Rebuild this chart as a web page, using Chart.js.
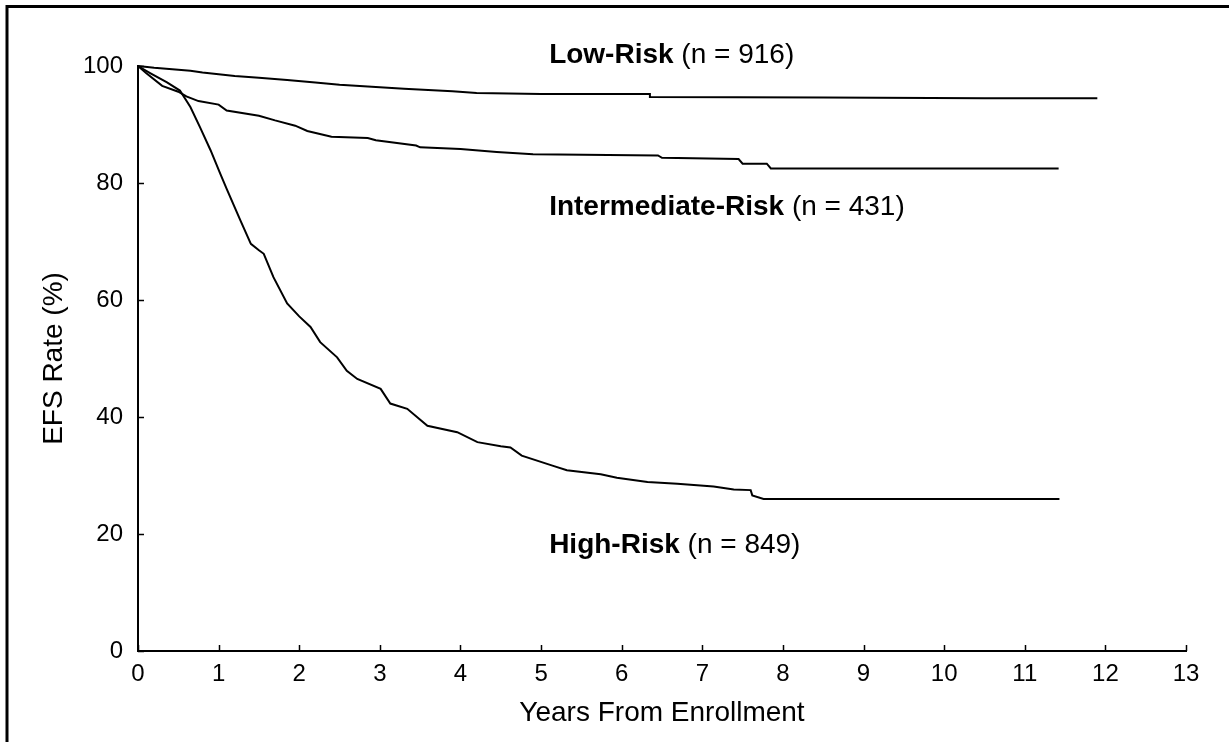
<!DOCTYPE html>
<html><head><meta charset="utf-8">
<script src="https://cdn.jsdelivr.net/npm/chart.js@4.4.1/dist/chart.umd.min.js"></script>
<style>html,body{margin:0;padding:0;background:#fff;}canvas{display:block;}</style>
</head><body>
<canvas id="c" width="1229" height="742"></canvas>
<script>
// ---- data (years from enrollment, EFS rate %) ----
const xTickValues = [0,1,2,3,4,5,6,7,8,9,10,11,12,13];
const yTickValues = [0,20,40,60,80,100];

const lowRiskX = [0,0.2,0.65,0.8,1.2,1.5,1.85,2.2,2.5,2.85,3.3,3.9,4.2,5.0,6.35,6.35,8.5,10.5,11.9];
const lowRiskY = [100,99.7,99.2,98.9,98.3,98.0,97.6,97.2,96.8,96.5,96.1,95.7,95.4,95.2,95.2,94.7,94.6,94.5,94.5];

const intRiskX = [0,0.1,0.3,0.5,0.6,0.75,1.0,1.1,1.5,1.7,1.95,2.1,2.4,2.85,2.95,3.45,3.5,4.0,4.45,4.9,6.45,6.5,7.45,7.5,7.8,7.85,11.42];
const intRiskY = [100,98.8,96.6,95.6,94.8,94.0,93.4,92.4,91.5,90.7,89.8,88.9,87.9,87.7,87.3,86.4,86.1,85.8,85.3,84.9,84.7,84.3,84.1,83.3,83.3,82.5,82.5];

const highRiskX = [0,0.15,0.36,0.52,0.65,0.77,0.9,1.02,1.1,1.27,1.4,1.5,1.56,1.68,1.85,2.0,2.14,2.26,2.47,2.59,2.72,3.01,3.13,3.34,3.59,3.96,4.21,4.5,4.62,4.76,5.16,5.32,5.74,5.94,6.32,6.69,7.14,7.39,7.6,7.62,7.76,11.43];
const highRiskY = [100,98.8,97.2,95.8,93.0,89.5,85.6,81.6,79.0,73.6,69.6,68.5,67.9,63.9,59.4,57.2,55.4,52.8,50.2,47.9,46.5,44.8,42.3,41.4,38.5,37.4,35.7,35.0,34.8,33.4,31.6,30.9,30.2,29.6,28.9,28.6,28.1,27.6,27.5,26.6,26.0,26.0];

const seriesNames = ['Low-Risk','Intermediate-Risk','High-Risk'];
const seriesN = [916,431,849];

// ---- build ----
const toPts = (xs, ys) => xs.map((x, i) => ({x: x, y: ys[i]}));
const FONT = "'Liberation Sans', Arial, Helvetica, sans-serif";

const labelAnchors = [ {x:5.1, y:101.8}, {x:5.1, y:75.8}, {x:5.1, y:18.0} ];

const framePlugin = {
  id: 'frame',
  beforeDraw(chart) {
    const ctx = chart.ctx;
    ctx.save();
    ctx.fillStyle = '#fff';
    ctx.fillRect(0, 0, chart.width, chart.height);
    ctx.strokeStyle = '#000';
    ctx.lineWidth = 3;
    ctx.beginPath();
    ctx.moveTo(7, chart.height);
    ctx.lineTo(7, 6.5);
    ctx.lineTo(chart.width, 6.5);
    ctx.stroke();
    ctx.restore();
  }
};

const inwardTicks = {
  id: 'inwardTicks',
  afterDraw(chart) {
    const ctx = chart.ctx, xs = chart.scales.x, ys = chart.scales.y, a = chart.chartArea;
    ctx.save();
    ctx.strokeStyle = '#000';
    ctx.lineWidth = 1.5;
    ctx.beginPath();
    xTickValues.forEach(v => {
      const px = Math.round(xs.getPixelForValue(v)) + 0.5;
      ctx.moveTo(px, a.bottom); ctx.lineTo(px, a.bottom - 6);
    });
    yTickValues.forEach(v => {
      const py = Math.round(ys.getPixelForValue(v)) + 0.5;
      ctx.moveTo(a.left, py); ctx.lineTo(a.left + 6, py);
    });
    ctx.stroke();
    ctx.restore();
  }
};

const labelsPlugin = {
  id: 'curveLabels',
  afterDatasetsDraw(chart) {
    const ctx = chart.ctx, xs = chart.scales.x, ys = chart.scales.y;
    ctx.save();
    ctx.fillStyle = '#000';
    ctx.textBaseline = 'middle';
    ctx.textAlign = 'left';
    seriesNames.forEach((name, i) => {
      const px = xs.getPixelForValue(labelAnchors[i].x);
      const py = ys.getPixelForValue(labelAnchors[i].y);
      ctx.font = 'bold 28px ' + FONT;
      ctx.fillText(name, px, py);
      const w = ctx.measureText(name).width;
      ctx.font = '28px ' + FONT;
      ctx.fillText(' (n = ' + seriesN[i] + ')', px + w, py);
    });
    ctx.restore();
  }
};

const mkDs = (label, xs, ys) => ({
  label: label,
  data: toPts(xs, ys),
  borderColor: '#000',
  borderWidth: 2,
  pointRadius: 0,
  tension: 0,
  fill: false,
  clip: 6
});

new Chart(document.getElementById('c'), {
  type: 'line',
  data: {
    datasets: [
      mkDs(seriesNames[0], lowRiskX, lowRiskY),
      mkDs(seriesNames[1], intRiskX, intRiskY),
      mkDs(seriesNames[2], highRiskX, highRiskY)
    ]
  },
  options: {
    responsive: false,
    animation: false,
    devicePixelRatio: 1,
    layout: { padding: { left: 0, top: 66, right: 43, bottom: 0 } },
    plugins: { legend: { display: false }, tooltip: { enabled: false } },
    scales: {
      x: {
        type: 'linear', min: 0, max: 13,
        afterBuildTicks: s => { s.ticks = xTickValues.map(v => ({value: v})); },
        afterFit: s => { s.height = 91; },
        grid: { display: false, drawTicks: false },
        border: { display: true, color: '#000', width: 2 },
        ticks: { color: '#000', font: { family: FONT, size: 24 }, padding: 9, maxRotation: 0, autoSkip: false },
        title: { display: true, text: 'Years From Enrollment', color: '#000',
                 font: { family: FONT, size: 28 }, padding: { top: 0, bottom: 12 } }
      },
      y: {
        type: 'linear', min: 0, max: 100,
        afterBuildTicks: s => { s.ticks = yTickValues.map(v => ({value: v})); },
        afterFit: s => { s.width = 138; },
        grid: { display: false, drawTicks: false },
        border: { display: true, color: '#000', width: 2 },
        ticks: { color: '#000', font: { family: FONT, size: 24 }, padding: 15 },
        title: { display: true, text: 'EFS Rate (%)', color: '#000',
                 font: { family: FONT, size: 28 }, padding: { top: 37, bottom: 0 } }
      }
    }
  },
  plugins: [framePlugin, inwardTicks, labelsPlugin]
});
</script>
</body></html>
